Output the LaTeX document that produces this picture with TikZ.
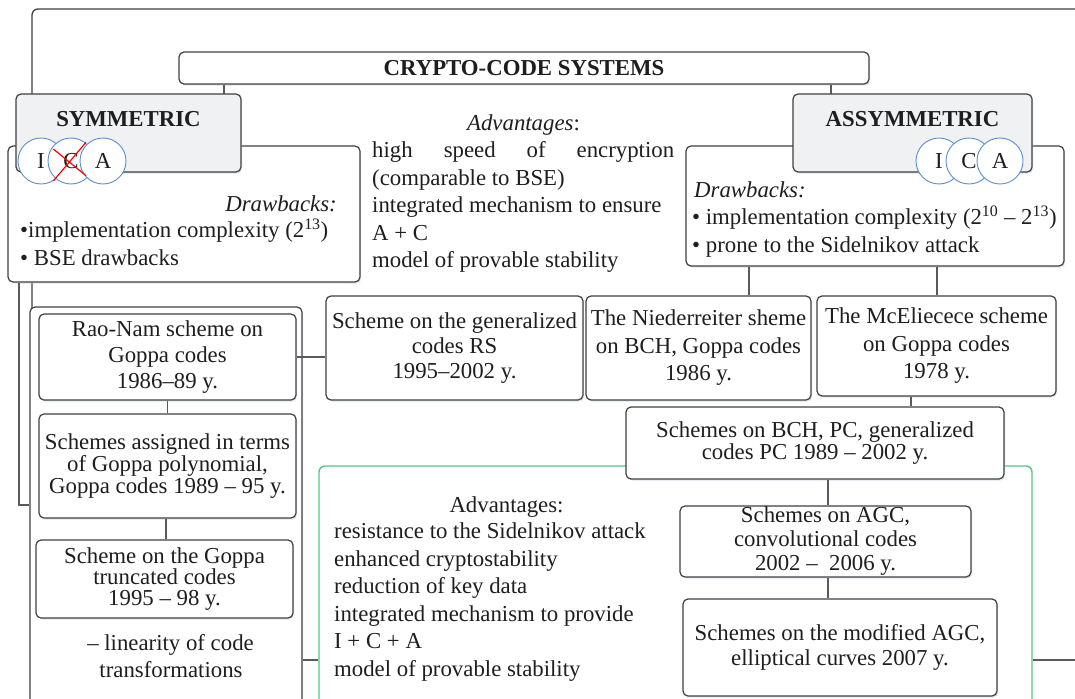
\documentclass[tikz,border=0pt]{standalone}
\usepackage{fontspec}
\setmainfont{Liberation Serif}
\usetikzlibrary{shadows}
\definecolor{boxc}{RGB}{64,64,64}
\definecolor{linec}{RGB}{90,90,90}
\definecolor{grayfill}{RGB}{240,241,243}
\definecolor{cblue}{RGB}{91,143,201}
\definecolor{greenc}{RGB}{84,200,134}
\definecolor{shadc}{RGB}{200,214,232}
\definecolor{txt}{RGB}{30,30,30}
\begin{document}
\begin{tikzpicture}[x=1pt,y=-1pt,
  every node/.style={text=txt, font=\fontsize{22.8}{27.5}\selectfont},
  lead/.style={font=\fontsize{22.8}{#1}\selectfont},
  box/.style={draw=boxc, line width=1.2pt, rounded corners=5pt, fill=white, inner sep=0pt, align=center,
    drop shadow={shadow xshift=1.2pt, shadow yshift=-1.6pt, fill=shadc, opacity=0.6}},
  graybox/.style={box, fill=grayfill},
  greenbox/.style={draw=greenc, line width=1.4pt, rounded corners=6pt, fill=white, inner sep=0pt},
  outerbox/.style={draw=boxc, line width=1.3pt, rounded corners=6pt, inner sep=0pt},
  conn/.style={draw=linec, line width=1.2pt},
  circ/.style={circle, draw=cblue, line width=0.9pt, fill=white, minimum size=46, inner sep=0pt},
  txtn/.style={inner sep=0pt},
  cross/.style={draw=red, line width=1.2pt}
]
\useasboundingbox (0,0) rectangle (1075,698);
\clip (0,0) rectangle (1075,698);
\fill[white] (0,0) rectangle (1075,698);

% outer frame
\node[outerbox, minimum width=1080, minimum height=740] (outer) at (572,379) {};

% title
\node[box, minimum width=690, minimum height=32] (title) at (524,68) {\bfseries CRYPTO-CODE SYSTEMS};

% drawbacks boxes
\node[box, minimum width=352, minimum height=136] (symdraw) at (184,214) {};
\node[box, minimum width=378, minimum height=120] (asymdraw) at (875,206) {};

% connectors title -> sym / asym
\draw[conn] (title.south -| 224,0) -- (224,94);
\draw[conn] (title.south -| 831,0) -- (831,94);

% sym / asym headers
\node[graybox, minimum width=225, minimum height=78] (sym) at (128.5,133) {};
\node[graybox, minimum width=239, minimum height=78] (asym) at (912.5,133) {};
\node[txtn, anchor=base] (symtxt) at (128.5,126) {\bfseries SYMMETRIC};
\node[txtn, anchor=base] (asymtxt) at (912.5,126) {\bfseries ASSYMMETRIC};

% ICA circles symmetric
\node[circ] (sI) at (41,161) {I};
\node[circ] (sC) at (71,161) {C};
\node[circ] (sA) at (103,161) {A};
\draw[cross] (53.3,181) -- (86,142.3);
\draw[cross] (53.3,149) -- (86,175.7);

% ICA circles asymmetric
\node[circ] (aI) at (939,161) {I};
\node[circ] (aC) at (969,161) {C};
\node[circ] (aA) at (1000,161) {A};

% symmetric drawbacks text
\node[txtn, anchor=base east] (sdw) at (337,211) {\itshape Drawbacks:};
\node[txtn, anchor=base west] (sd1) at (20,237) {•implementation complexity (2\textsuperscript{13})};
\node[txtn, anchor=base west] (sd2) at (20,265) {• BSE drawbacks};

% asymmetric drawbacks text
\node[txtn, anchor=base west] (adw) at (694,197) {\itshape Drawbacks:};
\node[txtn, anchor=base west] (ad1) at (692,224) {• implementation complexity (2\textsuperscript{10} – 2\textsuperscript{13})};
\node[txtn, anchor=base west] (ad2) at (692,252) {• prone to the Sidelnikov attack};

% symmetric advantages
\node[txtn, anchor=base] (sadv) at (523.5,130) {\textit{Advantages}:};
\node[txtn, anchor=base west] (sa1) at (372,157) {\makebox[302pt][s]{high speed of encryption}};
\node[txtn, anchor=base west] (sa2) at (372,185) {(comparable to BSE)};
\node[txtn, anchor=base west] (sa3) at (372,212) {integrated mechanism to ensure};
\node[txtn, anchor=base west] (sa4) at (372,240) {A + C};
\node[txtn, anchor=base west] (sa5) at (372,267) {model of provable stability};

% left column
\node[box, minimum width=272, minimum height=420] (leftbox) at (166,517) {};
\draw[conn] (symdraw.south -| 19,0) |- (leftbox.west |- 0,505);
\node[box, lead=26, minimum width=257, minimum height=86] (rao) at (167.5,357) {Rao-Nam scheme on\\Goppa codes\\1986–89 y.};
\node[box, lead=20.5, minimum width=257, minimum height=104] (assigned) at (167.5,466) {Schemes assigned in terms\\of Goppa polynomial,\\Goppa codes 1989 – 95 y.};
\node[box, lead=21, minimum width=257, minimum height=78] (trunc) at (164.5,579) {Scheme on the Goppa\\truncated codes\\1995 – 98 y.};
\draw[conn] (rao.south) -- (assigned.north);
\draw[conn] (assigned.south -| 166,0) -- (trunc.north -| 166,0);
\node[txtn, anchor=base] (lin1) at (170.5,650) {– linearity of code};
\node[txtn, anchor=base] (lin2) at (171,677) {transformations};

% middle / right schemes
\node[box, lead=25, minimum width=257, minimum height=104] (rs) at (454.5,348) {Scheme on the generalized\\codes RS\\1995–2002 y.};
\draw[conn] (rao.east) -- (rs.west |- rao.east);
\node[box, lead=27.5, minimum width=225, minimum height=104] (nied) at (698.5,348) {The Niederreiter sheme\\on BCH, Goppa codes\\1986 y.};
\node[box, lead=27.5, minimum width=239, minimum height=100] (mce) at (936.5,346) {The McEliecece scheme\\on Goppa codes\\1978 y.};
\draw[conn] (asymdraw.south -| 749,0) -- (nied.north -| 749,0);
\draw[conn] (asymdraw.south -| 937,0) -- (mce.north -| 937,0);

% green advantages box
\node[greenbox, minimum width=713, minimum height=260] (green) at (675.5,596) {};
\coordinate (rightend) at (1080,660);
\draw[conn] (leftbox.east |- 0,660) -- (green.west |- 0,660);
\draw[conn] (green.east |- 0,660) -- (rightend);
\node[txtn, anchor=base] (gadv) at (506.5,512) {Advantages:};
\node[txtn, anchor=base west] (g1) at (334,538) {resistance to the Sidelnikov attack};
\node[txtn, anchor=base west] (g2) at (334,566) {enhanced cryptostability};
\node[txtn, anchor=base west] (g3) at (334,593) {reduction of key data};
\node[txtn, anchor=base west] (g4) at (334,621) {integrated mechanism to provide};
\node[txtn, anchor=base west] (g5) at (334,648) {I + C + A};
\node[txtn, anchor=base west] (g6) at (334,676) {model of provable stability};

\node[box, lead=22, minimum width=378, minimum height=72] (bch) at (815,443) {Schemes on BCH, PC, generalized\\codes PC 1989 – 2002 y.};
\draw[conn] (mce.south -| 911,0) -- (bch.north -| 911,0);
\node[box, lead=24, minimum width=291, minimum height=71] (agc) at (825.5,541.5) {Schemes on AGC,\\convolutional codes\\2002 –\ \ 2006 y.};
\node[box, lead=25, minimum width=314, minimum height=97] (mod) at (840,647.5) {Schemes on the modified AGC,\\elliptical curves 2007 y.};
\draw[conn] (bch.south -| 828,0) -- (agc.north -| 828,0);
\draw[conn] (agc.south -| 828,0) -- (mod.north -| 828,0);
\end{tikzpicture}
\end{document}
